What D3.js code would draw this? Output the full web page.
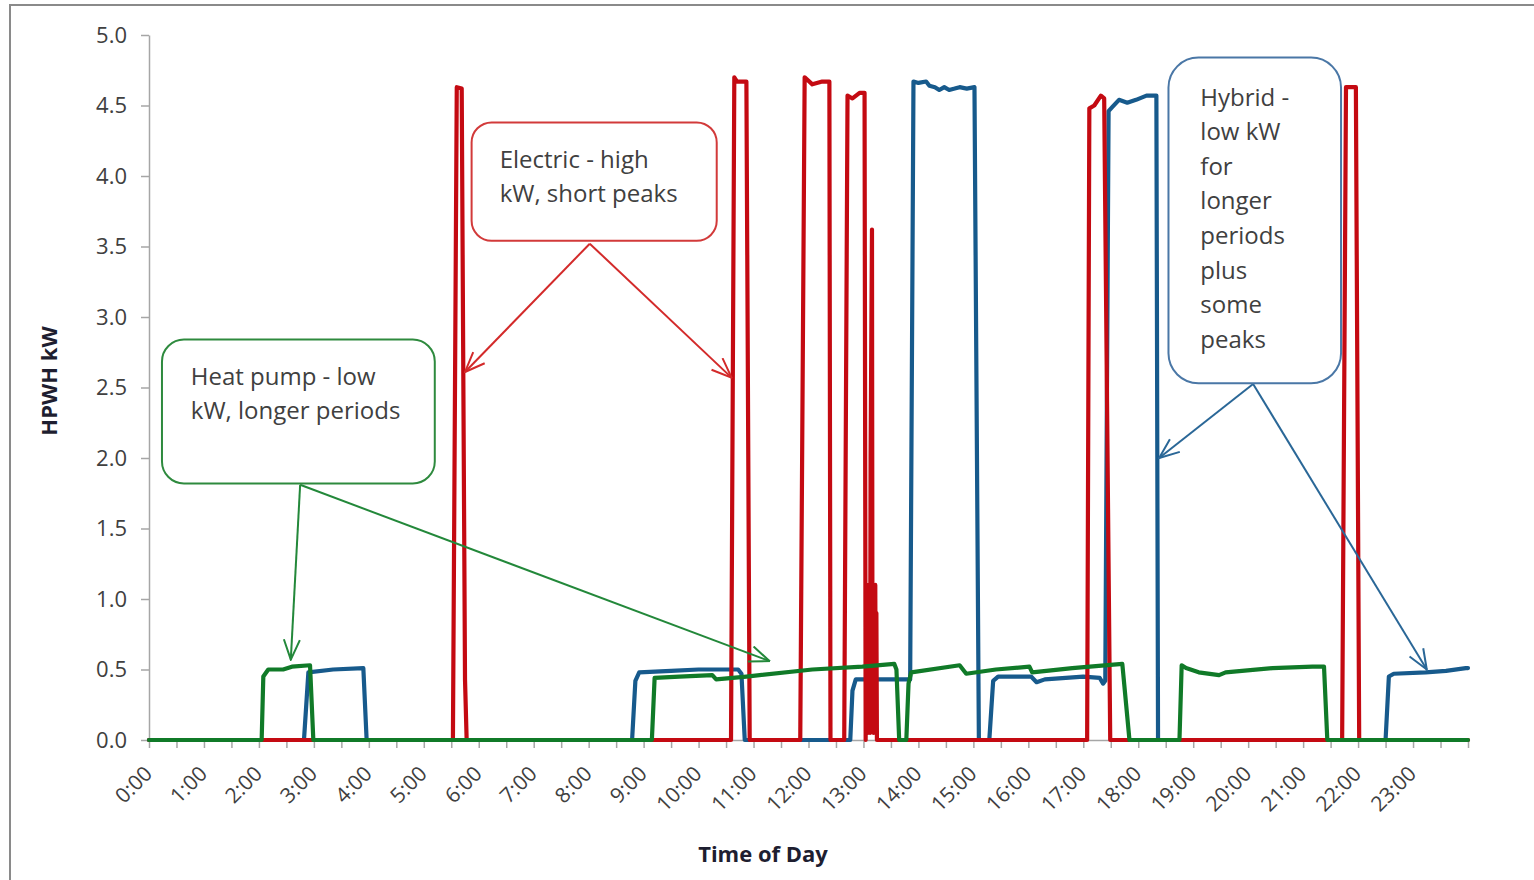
<!DOCTYPE html>
<html>
<head>
<meta charset="utf-8">
<script src="https://cdn.jsdelivr.net/npm/d3@7"></script>
<style>
  body { margin: 0; background: #fff; }
  svg { display: block; font-family: "Open Sans", sans-serif; }
</style>
</head>
<body>
<div id="chart"></div>
<script>
// Values: [hour of day, kW]
const heatPump = [
    [0, 0], [2.05, 0], [2.08, 0.45], [2.17, 0.50], [2.44, 0.50], [2.6, 0.52], [2.93, 0.53], [2.99, 0],
    [9.15, 0], [9.2, 0.44], [9.65, 0.45], [10.25, 0.46], [10.32, 0.43], [10.87, 0.45], [12.07, 0.50],
    [12.98, 0.52], [13.56, 0.54], [13.60, 0.50], [13.65, 0],
    [13.78, 0], [13.82, 0.40], [13.87, 0.48], [14.75, 0.53], [14.87, 0.47], [15.41, 0.50], [16.02, 0.52],
    [16.07, 0.48], [16.8, 0.51], [17.71, 0.54], [17.84, 0],
    [18.75, 0], [18.79, 0.53], [18.87, 0.51], [19.1, 0.48], [19.47, 0.46], [19.59, 0.48], [20.44, 0.51],
    [21.17, 0.52], [21.38, 0.52], [21.44, 0], [24, 0]
];

const hybrid = [
    [0, 0], [2.82, 0], [2.9, 0.48], [3.35, 0.50], [3.9, 0.51], [3.96, 0],
    [8.79, 0], [8.85, 0.42], [8.92, 0.48], [9.5, 0.49], [10.0, 0.50], [10.72, 0.50], [10.78, 0.47], [10.84, 0],
    [12.76, 0], [12.8, 0.35], [12.86, 0.43], [13.85, 0.43], [13.91, 4.67], [14.0, 4.66], [14.14, 4.67],
    [14.2, 4.64], [14.3, 4.63], [14.38, 4.61], [14.47, 4.63], [14.56, 4.61], [14.66, 4.62], [14.75, 4.63],
    [14.88, 4.62], [15.02, 4.63], [15.1, 0],
    [15.29, 0], [15.36, 0.42], [15.45, 0.45], [16.05, 0.45], [16.15, 0.41], [16.3, 0.43], [17.0, 0.45],
    [17.3, 0.44], [17.36, 0.40], [17.40, 0.42], [17.46, 4.46], [17.53, 4.49], [17.65, 4.54], [17.8, 4.52],
    [17.96, 4.54], [18.15, 4.57], [18.33, 4.57], [18.36, 0],
    [22.5, 0], [22.56, 0.45], [22.65, 0.47], [23.23, 0.48], [23.6, 0.49], [23.96, 0.51], [24, 0.51]
];

const electric = [
    [0, 0], [5.53, 0], [5.6, 4.63], [5.69, 4.62], [5.75, 0.43], [5.78, 0],
    [10.59, 0], [10.65, 4.70], [10.7, 4.67], [10.87, 4.67], [10.93, 0],
    [11.85, 0], [11.93, 4.70], [12.07, 4.65], [12.25, 4.67], [12.38, 4.67], [12.40, 0],
    [12.65, 0], [12.71, 4.57], [12.8, 4.55], [12.93, 4.59], [13.02, 4.59], [13.04, 0],
    [13.05, 1.05], [13.06, 0.05], [13.07, 1.1], [13.08, 0.05], [13.09, 1.0], [13.10, 0.1], [13.11, 1.1],
    [13.12, 0.05], [13.13, 2.0], [13.155, 3.62], [13.165, 0.1], [13.175, 1.1], [13.185, 0.05],
    [13.195, 1.05], [13.205, 0.1], [13.215, 1.1], [13.225, 0.05], [13.235, 0.9], [13.245, 0],
    [17.07, 0], [17.11, 4.48], [17.2, 4.50], [17.32, 4.57], [17.38, 4.55], [17.49, 0],
    [21.71, 0], [21.78, 4.63], [21.96, 4.63], [22.02, 0], [24, 0]
];

const yTicks = [0, 0.5, 1.0, 1.5, 2.0, 2.5, 3.0, 3.5, 4.0, 4.5, 5.0];
const hourLabels = ["0:00", "1:00", "2:00", "3:00", "4:00", "5:00", "6:00", "7:00", "8:00", "9:00",
    "10:00", "11:00", "12:00", "13:00", "14:00", "15:00", "16:00", "17:00", "18:00", "19:00",
    "20:00", "21:00", "22:00", "23:00"];

const blue = "#175a8c";
const red = "#c40a12";
const green = "#107a28";

// Callouts, positioned in chart units (hours, kW)
const callouts = [
    { lines: ["Electric - high", "kW, short peaks"], box: [5.87, 10.33, 4.38, 3.54], textAt: [6.38, 4.06],
      stroke: "#d23a3a", arrow: "#d32a2a", from: [8.02, 3.52], to: [[5.75, 2.61], [10.6, 2.57]], rx: 20 },
    { lines: ["Heat pump - low", "kW, longer periods"], box: [0.236, 5.2, 2.84, 1.82], textAt: [0.76, 2.52],
      stroke: "#2e8a3e", arrow: "#23883a", from: [2.75, 1.81], to: [[2.58, 0.57], [11.29, 0.56]], rx: 22 },
    { lines: ["Hybrid -", "low kW", "for", "longer", "periods", "plus", "some", "peaks"],
      box: [18.55, 21.69, 4.84, 2.53], textAt: [19.13, 4.50],
      stroke: "#4a77a6", arrow: "#2a6797", from: [20.09, 2.525], to: [[18.38, 2.0], [23.25, 0.50]], rx: 30 }
];

function drawChart() {
    const width = 1534;
    const height = 880;

    const svg = d3.select("#chart")
        .append("svg")
        .attr("width", width)
        .attr("height", height);

    // outer frame
    svg.append("rect")
        .attr("x", 10).attr("y", 5)
        .attr("width", 1540).attr("height", 900)
        .attr("fill", "none")
        .attr("stroke", "#8a8a8a")
        .attr("stroke-width", 2);

    const x = d3.scaleLinear().domain([0, 24]).range([149, 1468]);
    const y = d3.scaleLinear().domain([0, 5]).range([740, 35]);

    // y axis
    svg.append("g")
        .attr("transform", `translate(${x(0)},0)`)
        .call(d3.axisLeft(y).tickValues(yTicks).tickFormat(d3.format(".1f"))
            .tickSize(8).tickSizeOuter(0).tickPadding(14))
        .attr("font-family", null)
        .attr("font-size", 22)
        .call(g => g.select(".domain").attr("stroke", "#a6a6a6").attr("stroke-width", 1.5))
        .call(g => g.selectAll(".tick line").attr("stroke", "#a6a6a6").attr("stroke-width", 1.5))
        .call(g => g.selectAll(".tick text").attr("fill", "#404040"));

    // x axis: ticks every half hour, labels every hour
    const halfHours = d3.range(0, 48.5).map(i => i / 2);
    svg.append("g")
        .attr("transform", `translate(0,${y(0)})`)
        .call(d3.axisBottom(x).tickValues(halfHours)
            .tickFormat(d => Number.isInteger(d) && d < 24 ? hourLabels[d] : "")
            .tickSize(8).tickSizeOuter(0))
        .attr("font-family", null)
        .attr("font-size", 21)
        .call(g => g.select(".domain").attr("stroke", "#a6a6a6").attr("stroke-width", 1.5))
        .call(g => g.selectAll(".tick line").attr("stroke", "#a6a6a6").attr("stroke-width", 1.5))
        .call(g => g.selectAll(".tick text")
            .attr("fill", "#404040")
            .attr("x", 0).attr("y", 0).attr("dy", 0)
            .attr("text-anchor", "end")
            .attr("transform", "translate(4,35) rotate(-45)"));

    // axis titles
    svg.append("text")
        .attr("transform", `translate(57,381) rotate(-90)`)
        .attr("text-anchor", "middle")
        .attr("font-size", 22)
        .attr("font-weight", "bold")
        .attr("fill", "#1e1e30")
        .text("HPWH kW");

    svg.append("text")
        .attr("x", 763)
        .attr("y", 862)
        .attr("text-anchor", "middle")
        .attr("font-size", 22)
        .attr("font-weight", "bold")
        .attr("fill", "#1e1e30")
        .text("Time of Day");

    // series
    const line = d3.line()
        .x(d => x(d[0]))
        .y(d => y(d[1]));

    const series = [
        { name: "Hybrid", values: hybrid, color: blue },
        { name: "Electric", values: electric, color: red },
        { name: "Heat pump", values: heatPump, color: green }
    ];

    svg.selectAll(".series")
        .data(series)
        .enter().append("path")
        .attr("class", "series")
        .attr("d", d => line(d.values))
        .attr("fill", "none")
        .attr("stroke", d => d.color)
        .attr("stroke-width", 4.2)
        .attr("stroke-linejoin", "round")
        .attr("stroke-linecap", "round");

    // arrow heads
    const defs = svg.append("defs");
    callouts.forEach((c, i) => {
        defs.append("marker")
            .attr("id", "arrow" + i)
            .attr("viewBox", "0 0 22 18")
            .attr("refX", 21)
            .attr("refY", 9)
            .attr("markerUnits", "userSpaceOnUse")
            .attr("markerWidth", 22)
            .attr("markerHeight", 18)
            .attr("orient", "auto")
            .append("path")
            .attr("d", "M1,1 L21,9 L1,17")
            .attr("fill", "none")
            .attr("stroke", c.arrow)
            .attr("stroke-width", 2);
    });

    // callouts
    callouts.forEach((c, i) => {
        const g = svg.append("g");
        c.to.forEach(t => {
            g.append("line")
                .attr("x1", x(c.from[0])).attr("y1", y(c.from[1]))
                .attr("x2", x(t[0])).attr("y2", y(t[1]))
                .attr("stroke", c.arrow)
                .attr("stroke-width", 2)
                .attr("marker-end", `url(#arrow${i})`);
        });
        g.append("rect")
            .attr("x", x(c.box[0]))
            .attr("y", y(c.box[2]))
            .attr("width", x(c.box[1]) - x(c.box[0]))
            .attr("height", y(c.box[3]) - y(c.box[2]))
            .attr("rx", c.rx)
            .attr("fill", "#fff")
            .attr("stroke", c.stroke)
            .attr("stroke-width", 2);
        g.append("text")
            .attr("x", x(c.textAt[0]))
            .attr("y", y(c.textAt[1]))
            .attr("font-size", 24)
            .attr("fill", "#404040")
            .selectAll("tspan")
            .data(c.lines)
            .enter().append("tspan")
            .attr("x", x(c.textAt[0]))
            .attr("dy", (d, k) => k === 0 ? 0 : 34.6)
            .text(d => d);
    });
}

drawChart();
</script>
</body>
</html>
